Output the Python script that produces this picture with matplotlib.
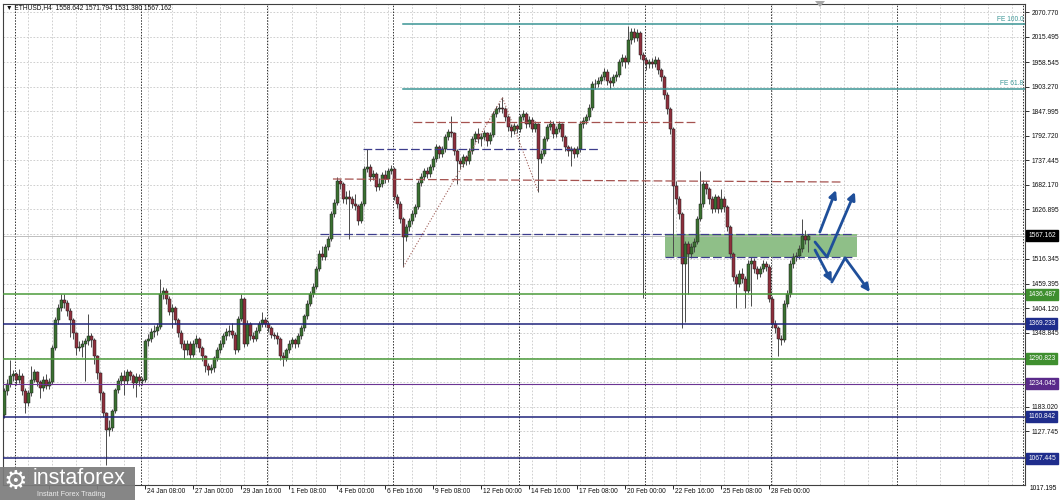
import matplotlib.pyplot as plt
import numpy as np
from matplotlib.transforms import blended_transform_factory
from matplotlib.patches import Rectangle, Polygon

plt.rcParams['font.family'] = ['Liberation Sans', 'DejaVu Sans']

# ETHUSD H4 candles, bar 0 = 16 Jan 12:00, one bar every 4 hours
first_open = 1164
close = [1218, 1233, 1251, 1256, 1242, 1253, 1218, 1191, 1213, 1244,
         1260, 1238, 1224, 1244, 1229, 1238, 1316, 1377, 1406, 1422,
         1417, 1399, 1377, 1348, 1314, 1318, 1323, 1330, 1341, 1332,
         1296, 1258, 1213, 1168, 1130, 1135, 1173, 1220, 1240, 1251,
         1240, 1260, 1251, 1236, 1249, 1240, 1242, 1330, 1336, 1352,
         1354, 1363, 1437, 1444, 1426, 1397, 1404, 1377, 1348, 1325,
         1310, 1325, 1300, 1325, 1336, 1314, 1296, 1274, 1265, 1269,
         1292, 1310, 1325, 1341, 1352, 1354, 1345, 1310, 1381, 1426,
         1325, 1370, 1341, 1336, 1354, 1368, 1377, 1370, 1359, 1345,
         1343, 1336, 1296, 1292, 1310, 1325, 1332, 1323, 1341, 1359,
         1386, 1415, 1437, 1453, 1493, 1527, 1520, 1543, 1561, 1617,
         1641, 1690, 1684, 1650, 1655, 1650, 1639, 1634, 1601, 1639,
         1717, 1722, 1699, 1706, 1677, 1684, 1704, 1695, 1713, 1717,
         1655, 1639, 1605, 1565, 1587, 1601, 1617, 1632, 1686, 1699,
         1713, 1706, 1722, 1740, 1767, 1751, 1762, 1789, 1800, 1798,
         1758, 1735, 1729, 1744, 1735, 1758, 1785, 1796, 1785, 1789,
         1798, 1780, 1794, 1841, 1852, 1856, 1852, 1834, 1812, 1803,
         1814, 1807, 1834, 1841, 1818, 1829, 1807, 1818, 1740, 1751,
         1785, 1812, 1820, 1796, 1807, 1818, 1789, 1767, 1758, 1762,
         1751, 1762, 1818, 1825, 1834, 1856, 1908, 1910, 1915, 1924,
         1937, 1915, 1912, 1924, 1930, 1959, 1968, 1959, 2009, 2027,
         2013, 2024, 1975, 1964, 1953, 1959, 1955, 1964, 1941, 1924,
         1885, 1852, 1807, 1679, 1650, 1617, 1504, 1549, 1527, 1543,
         1554, 1605, 1639, 1684, 1672, 1650, 1628, 1655, 1628, 1650,
         1632, 1587, 1527, 1475, 1460, 1482, 1471, 1444, 1504, 1511,
         1493, 1482, 1493, 1504, 1498, 1426, 1370, 1359, 1336, 1334,
         1415, 1437, 1504, 1520, 1522, 1538, 1567, 1558.642, 1567.162]
high = [1226, 1245, 1287, 1266, 1262, 1268, 1258, 1224, 1220, 1274,
        1268, 1264, 1242, 1252, 1256, 1248, 1322, 1385, 1415, 1437,
        1436, 1424, 1405, 1382, 1352, 1330, 1334, 1338, 1392, 1348,
        1338, 1300, 1262, 1218, 1172, 1152, 1178, 1226, 1248, 1262,
        1266, 1268, 1265, 1256, 1258, 1256, 1250, 1336, 1346, 1360,
        1366, 1372, 1471, 1452, 1450, 1432, 1415, 1410, 1382, 1355,
        1332, 1334, 1330, 1332, 1345, 1340, 1320, 1300, 1282, 1278,
        1298, 1318, 1332, 1348, 1360, 1366, 1372, 1350, 1388, 1437,
        1430, 1378, 1374, 1350, 1362, 1375, 1397, 1384, 1376, 1364,
        1352, 1350, 1340, 1305, 1316, 1332, 1340, 1338, 1348, 1366,
        1392, 1422, 1444, 1462, 1500, 1536, 1545, 1550, 1568, 1624,
        1650, 1699, 1696, 1688, 1668, 1670, 1658, 1662, 1640, 1646,
        1724, 1762, 1728, 1716, 1712, 1698, 1712, 1716, 1720, 1726,
        1722, 1662, 1645, 1610, 1594, 1608, 1625, 1640, 1692, 1708,
        1720, 1722, 1730, 1748, 1775, 1772, 1770, 1796, 1808, 1836,
        1802, 1762, 1742, 1752, 1750, 1765, 1792, 1804, 1810, 1798,
        1806, 1802, 1800, 1848, 1860, 1866, 1879, 1858, 1840, 1818,
        1822, 1820, 1842, 1850, 1846, 1838, 1834, 1826, 1822, 1760,
        1792, 1820, 1828, 1826, 1815, 1826, 1822, 1794, 1772, 1770,
        1768, 1770, 1825, 1834, 1842, 1864, 1915, 1920, 1924, 1932,
        1946, 1942, 1924, 1932, 1938, 1966, 1976, 1974, 2040, 2036,
        2035, 2032, 2028, 1982, 1970, 1966, 1968, 1972, 1970, 1946,
        1930, 1890, 1858, 1812, 1690, 1656, 1622, 1556, 1556, 1552,
        1562, 1612, 1713, 1692, 1690, 1678, 1656, 1662, 1660, 1673,
        1656, 1636, 1592, 1532, 1482, 1490, 1494, 1478, 1512, 1520,
        1518, 1500, 1500, 1512, 1510, 1504, 1432, 1378, 1364, 1345,
        1422, 1446, 1512, 1528, 1532, 1546, 1605, 1580, 1571.794]
low = [1158, 1210, 1228, 1240, 1232, 1236, 1210, 1168, 1184, 1208,
       1238, 1230, 1202, 1218, 1222, 1222, 1234, 1310, 1370, 1398,
       1405, 1386, 1340, 1336, 1300, 1308, 1295, 1240, 1322, 1318,
       1280, 1245, 1198, 1160, 1052, 1118, 1128, 1168, 1214, 1232,
       1210, 1235, 1244, 1226, 1205, 1230, 1232, 1238, 1320, 1328,
       1340, 1345, 1358, 1425, 1415, 1390, 1360, 1368, 1340, 1315,
       1290, 1300, 1290, 1294, 1318, 1306, 1286, 1262, 1255, 1258,
       1262, 1285, 1303, 1318, 1332, 1343, 1338, 1302, 1305, 1375,
       1318, 1320, 1332, 1328, 1330, 1348, 1362, 1362, 1350, 1338,
       1335, 1325, 1288, 1274, 1286, 1304, 1318, 1314, 1318, 1336,
       1354, 1380, 1410, 1430, 1448, 1488, 1512, 1514, 1536, 1556,
       1610, 1636, 1672, 1642, 1640, 1561, 1630, 1626, 1592, 1596,
       1634, 1710, 1690, 1692, 1668, 1670, 1678, 1686, 1688, 1706,
       1648, 1630, 1596, 1498, 1556, 1578, 1594, 1610, 1628, 1680,
       1692, 1698, 1700, 1716, 1734, 1742, 1745, 1756, 1782, 1790,
       1750, 1684, 1718, 1722, 1726, 1730, 1752, 1778, 1776, 1770,
       1782, 1770, 1774, 1790, 1835, 1845, 1844, 1826, 1803, 1790,
       1796, 1798, 1802, 1828, 1810, 1812, 1800, 1800, 1666, 1732,
       1746, 1780, 1806, 1788, 1790, 1800, 1780, 1758, 1746, 1724,
       1742, 1744, 1756, 1810, 1818, 1828, 1850, 1898, 1902, 1908,
       1918, 1906, 1898, 1905, 1916, 1924, 1950, 1944, 1954, 2000,
       2004, 2006, 1966, 1428, 1940, 1945, 1946, 1948, 1932, 1915,
       1876, 1842, 1796, 1522, 1640, 1606, 1359, 1374, 1437, 1518,
       1530, 1548, 1600, 1632, 1662, 1640, 1618, 1620, 1618, 1622,
       1622, 1578, 1518, 1466, 1404, 1452, 1462, 1404, 1438, 1410,
       1484, 1470, 1474, 1486, 1488, 1418, 1360, 1348, 1296, 1322,
       1328, 1408, 1430, 1496, 1510, 1515, 1532, 1548, 1531.380]

header = '\u25bc ETHUSD,H4  1558.642 1571.794 1531.380 1567.162'

# price scale (right axis)
grid_prices = [2070.770, 2015.495, 1958.545, 1903.270, 1847.995, 1792.720,
               1737.445, 1682.170, 1626.895, 1571.620, 1516.345, 1459.395,
               1404.120, 1348.845, 1293.570, 1238.295, 1183.020, 1127.745,
               1072.470]
hidden_grid = [1571.620, 1293.570, 1238.295, 1072.470]
bottom_label = 1017.195

# time scale (first two ticks sit under the logo)
time_bars = [15, 31, 47, 63, 79, 95, 111, 127, 143, 159, 175, 191, 207, 223, 239, 255]
time_labels = ['', '', '24 Jan 08:00', '27 Jan 00:00',
               '29 Jan 16:00', '1 Feb 08:00', '4 Feb 00:00', '6 Feb 16:00',
               '9 Feb 08:00', '12 Feb 00:00', '14 Feb 16:00', '17 Feb 08:00',
               '20 Feb 00:00', '22 Feb 16:00', '25 Feb 08:00', '28 Feb 00:00']

# horizontal support / resistance levels
level_prices = [1436.487, 1369.233, 1290.823, 1234.045, 1160.842, 1067.445]
level_colors = ['#4b9b3b', '#20247c', '#4b9b3b', '#6b3493', '#20247c', '#20247c']
level_box = ['#3f8f2f', '#1f2d8c', '#3f8f2f', '#5a2a8a', '#1f2d8c', '#1f2d8c']
current_price = 1567.162

# Fibonacci expansion levels
fe_prices = [2044.1, 1898.9]
fe_labels = ['FE 100.0', 'FE 61.8']
fe_start = 132.8

# dashed levels: (bar_start, price_start, bar_end, price_end, colour)
dashed_levels = [
    (119.5, 1762.8, 198.5, 1762.8, '#3c3c8c'),
    (136.2, 1823.5, 230.8, 1823.5, '#a5524f'),
    (109.5, 1695.3, 279.5, 1688.5, '#a5524f'),
    (105.2, 1571.5, 282.5, 1571.5, '#3c3c8c'),
    (220.2, 1519.8, 282.5, 1519.8, '#3c3c8c'),
]
zone_bars = [220.2, 284.2]
zone_prices = [1519.8, 1571.5]

# zigzag swing points (bars)
zig_bars = [133, 166, 178]

# scenario arrows (bar, price)
arrow_up1 = [(271.8, 1576.0), (277.2, 1670.5)]
arrow_up2 = [(270.2, 1553.5), (274.2, 1519.8), (283.5, 1666.0)]
arrow_dn = [(270.2, 1535.5), (275.8, 1463.5), (280.2, 1517.5), (288.5, 1441.0)]

W, H = 1063, 500
FS = 4.8
fig = plt.figure(figsize=(W / 100, H / 100), dpi=100)
ax = fig.add_axes([3 / W, 15 / H, 1022 / W, 481 / H])
ax.set_xlim(-0.5, 340.2)
ax.set_ylim(1006.7, 2089.1)

# grid
for p in grid_prices:
    ax.axhline(p, color='#c8c8c8', lw=0.6, ls=(0, (2, 2)), zorder=0)
for b in np.arange(7.8, 340, 8):
    ax.axvline(b, color='#c8c8c8', lw=0.6, ls=(0, (2, 2)), zorder=0)
for b in np.arange(3.5, 340, 42):
    ax.axvline(b, color='#303030', lw=0.7, ls=(0, (1.5, 1.5)), zorder=0.5)

# zone
ax.add_patch(Rectangle((zone_bars[0], zone_prices[0]), zone_bars[1] - zone_bars[0],
                       zone_prices[1] - zone_prices[0], fc='#8fbf88', ec='none', zorder=1))

# candles
n = len(close)
bars = np.arange(n)
closes = np.array(close, float)
opens = np.array([first_open] + close[:-1], float)
highs = np.maximum(np.array(high, float), np.maximum(opens, closes))
lows = np.minimum(np.array(low, float), np.minimum(opens, closes))
up = closes >= opens
ax.vlines(bars, lows, highs, color='#4a4a4a', lw=0.7, zorder=4)
ax.bar(bars, np.maximum(np.abs(closes - opens), 1.5), bottom=np.minimum(opens, closes),
       width=0.72, color=np.where(up, '#3a7031', '#8e2f3c'),
       edgecolor='#202020', linewidth=0.35, zorder=5)

trans_r = blended_transform_factory(ax.transAxes, ax.transData)

# bid line
ax.axhline(current_price, color='#b4b4b4', lw=0.6, zorder=2)

# level lines
for p, c in zip(level_prices, level_colors):
    ax.axhline(p, color=c, lw=1.1 if c != '#6b3493' else 0.8, zorder=6)

# FE lines
for p, lab in zip(fe_prices, fe_labels):
    ax.plot([fe_start, 340.2], [p, p], color='#3a9595', lw=1.1, zorder=6)
    ax.text(339.6, p + 3, lab, color='#3a9595', fontsize=FS, ha='right', va='bottom', zorder=7)

# dashed drawn levels
for b0, p0, b1, p1, c in dashed_levels:
    ax.plot([b0, b1], [p0, p1], color=c, lw=0.9, ls=(0, (7, 2.5)), zorder=6)

# zigzag
zig_prices = [lows[zig_bars[0]], highs[zig_bars[1]], lows[zig_bars[2]]]
ax.plot(zig_bars, zig_prices, color='#a0605a', lw=0.8, ls=(0, (1, 1.6)), zorder=6)

# arrows
acol = '#1f4f9a'
def draw_arrow(pts, heads):
    for k in range(len(pts) - 1):
        if k + 1 in heads:
            ax.annotate('', xy=pts[k + 1], xytext=pts[k],
                        arrowprops=dict(arrowstyle='-|>', color=acol, lw=2.0,
                                        mutation_scale=11, shrinkA=0, shrinkB=0),
                        zorder=8)
        else:
            ax.plot([pts[k][0], pts[k + 1][0]], [pts[k][1], pts[k + 1][1]],
                    color=acol, lw=2.0, solid_capstyle='round', zorder=8)

draw_arrow(arrow_up1, [1])
draw_arrow(arrow_up2, [2])
draw_arrow(arrow_dn, [1, 3])

# axes styling
for s in ax.spines.values():
    s.set_color('#404040')
    s.set_linewidth(0.8)
ax.yaxis.tick_right()
ax.set_yticks(grid_prices)
ax.set_yticklabels(['' if p in hidden_grid else f'{p:.3f}' for p in grid_prices])
ax.tick_params(axis='y', length=3, width=0.6, pad=1.5, labelsize=FS, colors='#101010')
ax.annotate(f'{bottom_label:.3f}', xy=(1, bottom_label), xycoords=trans_r,
            xytext=(3.5, -6), textcoords='offset points', fontsize=FS, va='center',
            ha='left', annotation_clip=False)
ax.set_xticks(time_bars)
ax.set_xticklabels([])
ax.tick_params(axis='x', length=3, width=0.6)
trans_b = blended_transform_factory(ax.transData, ax.transAxes)
for b, lab in zip(time_bars, time_labels):
    if lab:
        ax.text(b + 0.4, -0.006, lab, transform=trans_b, ha='left', va='top',
                fontsize=FS, color='#101010', clip_on=False)

# price boxes on the right axis
for p, c in zip(level_prices, level_box):
    ax.text(1.003, p, f'{p:.3f}', transform=trans_r, ha='left', va='center',
            fontsize=FS, color='white', clip_on=False, zorder=10,
            bbox=dict(boxstyle='square,pad=0.3', fc=c, ec=c))
ax.text(1.003, current_price, f'{current_price:.3f}', transform=trans_r, ha='left',
        va='center', fontsize=FS, color='white', clip_on=False, zorder=10,
        bbox=dict(boxstyle='square,pad=0.3', fc='black', ec='black'))

# header
fig.text(6 / W, 1 - 8 / H, header, fontsize=FS, va='center', ha='left', color='#101010')

# chart shift marker
fig.add_artist(Polygon([(815 / W, 1 - 1 / H), (825 / W, 1 - 1 / H), (820 / W, 1 - 7 / H)],
                       closed=True, transform=fig.transFigure, fc='#a8a8a8', ec='none'))

# logo
fig.add_artist(Rectangle((0, 0), 135 / W, 33 / H, transform=fig.transFigure,
                         fc='#7c7c7c', ec='none', alpha=0.92, zorder=20))
fig.text(3 / W, 1 - 482 / H, '\u2699', fontsize=19, color='white', va='center',
         ha='left', zorder=21, family='DejaVu Sans')
fig.text(33 / W, 1 - 478 / H, 'instaforex', fontsize=15.5, color='white',
         va='center', ha='left', zorder=21)
fig.text(37 / W, 1 - 494 / H, 'Instant Forex Trading', fontsize=5.2, color='#ececec',
         va='center', ha='left', zorder=21)

fig.savefig('out.png', dpi=100, facecolor='white')
